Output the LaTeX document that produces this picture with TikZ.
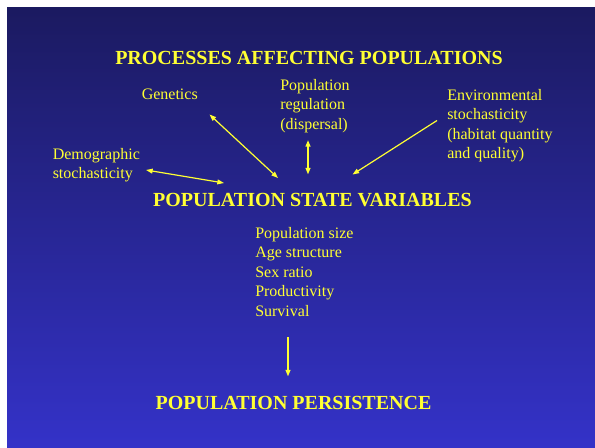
\documentclass[tikz,border=0pt]{standalone}
\usepackage{fontspec}
\setmainfont{Liberation Serif}
\usetikzlibrary{arrows.meta}
\definecolor{bgtop}{HTML}{1B1A60}
\definecolor{bgbottom}{HTML}{3432C8}
\definecolor{txt}{HTML}{FFFF33}
\begin{document}
\begin{tikzpicture}[x=0.75pt,y=-0.75pt,
  % multi-line labels are placed by the baseline of their last line
  label/.style={text=txt,inner sep=0pt,anchor=base west,align=left,
    font=\fontsize{12pt}{14.6pt}\selectfont},
  heading/.style={text=txt,inner sep=0pt,anchor=base,
    font=\fontsize{15pt}{18pt}\selectfont\bfseries},
  link/.style={draw=txt,line width=0.9pt,
    arrows={Triangle[length=5pt,width=3.6pt]-Triangle[length=5pt,width=3.6pt]}},
  flow/.style={draw=txt,line width=1pt,-{Triangle[length=5pt,width=3.6pt]}}]
  \useasboundingbox (0,0) rectangle (595,447);
  \fill[white] (0,0) rectangle (595,447);
  \shade[top color=bgtop,bottom color=bgbottom] (7,7) rectangle (595,447);

  % headings
  \node[heading] (proc) at (309,64) {PROCESSES AFFECTING POPULATIONS};
  \node[heading] (state) at (312.5,206) {POPULATION STATE VARIABLES};
  \node[heading] (persist) at (293.5,409) {POPULATION PERSISTENCE};

  % processes
  \node[label] (gen) at (141.5,99) {Genetics};
  \node[label] (reg) at (280,129) {Population\\regulation\\(dispersal)};
  \node[label] (env) at (447,158.5) {Environmental\\stochasticity\\(habitat quantity\\and quality)};
  \node[label] (demo) at (52.5,178.5) {Demographic\\stochasticity};

  % state variables
  \node[label] (vars) at (255,316) {Population size\\Age structure\\Sex ratio\\Productivity\\Survival};

  % arrow end points
  \coordinate (demoA) at (146,170);
  \coordinate (demoB) at (224,183);
  \coordinate (genA) at (209.5,114.5);
  \coordinate (genB) at (278,178);
  \coordinate (regA) at (308,140);
  \coordinate (regB) at (308,174.5);
  \coordinate (envA) at (437,120.5);
  \coordinate (envB) at (352.5,174.5);
  \coordinate (varsA) at (288,337);
  \coordinate (varsB) at (288,376.5);

  \draw[link] (demoA) -- (demoB);
  \draw[link] (genA) -- (genB);
  \draw[link,line width=1.2pt] (regA) -- (regB);
  \draw[flow,line width=0.9pt] (envA) -- (envB);
  \draw[flow,line width=1.2pt] (varsA) -- (varsB);
\end{tikzpicture}
\end{document}
